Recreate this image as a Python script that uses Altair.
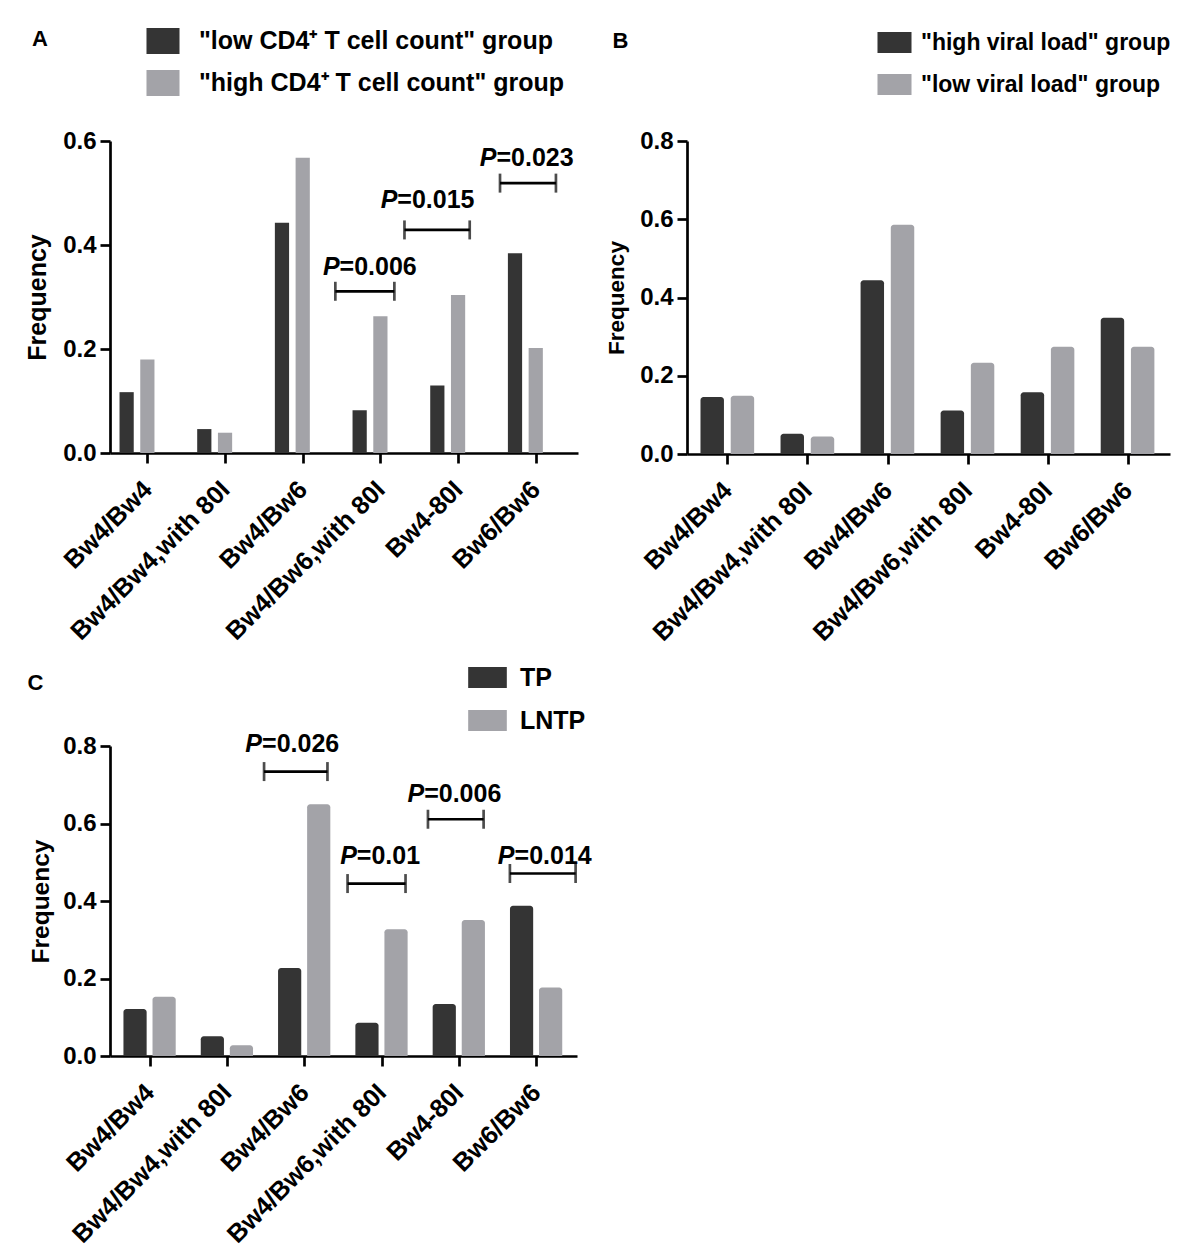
import json
import altair as alt
import pandas as pd

FONT = "Liberation Sans, Arial, Helvetica, sans-serif"
DARK = "#343434"
LIGHT = "#a3a3a8"

categories = ["Bw4/Bw4", "Bw4/Bw4,with 80I", "Bw4/Bw6", "Bw4/Bw6,with 80I", "Bw4-80I", "Bw6/Bw6"]

# ---------------- Panel A ----------------
a_groups = ['"low CD4\u207a T cell count" group', '"high CD4\u207a T cell count" group']
a_low = [0.117, 0.046, 0.443, 0.082, 0.130, 0.384]
a_high = [0.180, 0.039, 0.568, 0.263, 0.304, 0.202]
a_p_labels = ["=0.006", "=0.015", "=0.023"]
a_p_x0 = [2.42, 3.31, 4.54]
a_p_x1 = [3.18, 4.15, 5.26]
a_p_y = [0.311, 0.429, 0.519]
a_p_tx = [2.475, 3.218, 4.495]
a_p_ty = [0.358, 0.487, 0.567]

# ---------------- Panel B ----------------
b_groups = ['"high viral load" group', '"low viral load" group']
b_high = [0.146, 0.052, 0.444, 0.111, 0.158, 0.348]
b_low = [0.149, 0.045, 0.586, 0.233, 0.274, 0.274]

# ---------------- Panel C ----------------
c_groups = ["TP", "LNTP"]
c_tp = [0.121, 0.051, 0.227, 0.086, 0.134, 0.388]
c_lntp = [0.153, 0.028, 0.650, 0.327, 0.351, 0.177]
c_p_labels = ["=0.026", "=0.01", "=0.006", "=0.014"]
c_p_x0 = [1.48, 2.56, 3.60, 4.66]
c_p_x1 = [2.30, 3.31, 4.32, 5.51]
c_p_y = [0.734, 0.445, 0.611, 0.471]
c_p_tx = [1.454, 2.68, 3.551, 4.72]
c_p_ty = [0.805, 0.516, 0.676, 0.517]

LABEL_EXPR = json.dumps(categories) + "[datum.value]"


def panel(letter, groups, s1, s2, ymax, width, height, xdom, offs, barw, corner,
          leg, letter_xy, ytitle, brackets=None):
    df = pd.DataFrame({
        "cat": categories * 2,
        "idx": list(range(6)) * 2,
        "gi": [0] * 6 + [1] * 6,
        "group": [groups[0]] * 6 + [groups[1]] * 6,
        "value": s1 + s2,
    })
    xs = alt.Scale(domain=xdom, nice=False, zero=False)
    ys = alt.Scale(domain=[0, ymax], nice=False, zero=True)
    xax = alt.Axis(values=[0, 1, 2, 3, 4, 5], labelExpr=LABEL_EXPR, labelAngle=-45,
                   labelAlign="right", labelBaseline="middle", labelPadding=22,
                   labelFontSize=25.5, labelOverlap=False, labelLimit=600,
                   title=None, grid=False)
    yvals = [round(v * 0.2, 1) for v in range(int(round(ymax / 0.2)) + 1)]
    yax = alt.Axis(values=yvals, format=".1f", title="Frequency",
                   titleFontSize=ytitle[0], titlePadding=ytitle[1],
                   labelPadding=4, grid=False, labelOverlap=False)

    h = barw / 2
    bars = alt.Chart(df).transform_calculate(
        xl=f"datum.idx + (datum.gi == 0 ? {offs[0]} : {offs[1]}) - {h}",
        xr=f"datum.idx + (datum.gi == 0 ? {offs[0]} : {offs[1]}) + {h}",
    ).mark_bar(cornerRadiusTopLeft=corner, cornerRadiusTopRight=corner).encode(
        x=alt.X("xl:Q", scale=xs, axis=xax),
        x2="xr:Q",
        y=alt.Y("value:Q", scale=ys, axis=yax),
        y2=alt.datum(0),
        color=alt.Color(
            "group:N",
            sort=groups,
            scale=alt.Scale(domain=groups, range=[DARK, LIGHT]),
            legend=alt.Legend(
                title=None, orient="none", legendX=leg["x"], legendY=leg["y"],
                symbolType=leg["path"], symbolSize=leg["size"], symbolStrokeWidth=0,
                labelFont=FONT, labelFontSize=leg["fs"], labelFontWeight="bold",
                labelColor="black", labelOffset=leg["loff"], labelLimit=800,
                rowPadding=leg["rp"], padding=0,
            ),
        ),
    )
    layers = [bars]

    if brackets is not None:
        labels, x0, x1, yb, tx, ty = brackets
        bdf = pd.DataFrame({"x0": x0, "x1": x1, "y": yb})
        cdf = pd.DataFrame({"x": x0 + x1, "y": yb + yb})
        tdf = pd.DataFrame({"tx": tx, "ty": ty, "label": labels})
        layers.append(alt.Chart(bdf).mark_rule(color="black", strokeWidth=2.7).encode(
            x=alt.X("x0:Q", scale=xs, axis=xax), x2="x1:Q",
            y=alt.Y("y:Q", scale=ys, axis=yax)))
        layers.append(alt.Chart(cdf).mark_tick(orient="vertical", color="black",
                                               size=19, thickness=2.7).encode(
            x=alt.X("x:Q", scale=xs, axis=xax), y=alt.Y("y:Q", scale=ys, axis=yax)))
        layers.append(alt.Chart(tdf).mark_text(
            text="P", align="right", baseline="middle", font=FONT, fontSize=25,
            fontStyle="italic", fontWeight="bold", color="black").encode(
            x=alt.X("tx:Q", scale=xs, axis=xax), y=alt.Y("ty:Q", scale=ys, axis=yax)))
        layers.append(alt.Chart(tdf).mark_text(
            align="left", baseline="middle", font=FONT, fontSize=25,
            fontWeight="bold", color="black").encode(
            x=alt.X("tx:Q", scale=xs, axis=xax), y=alt.Y("ty:Q", scale=ys, axis=yax),
            text="label:N"))

    letter_layer = alt.Chart(pd.DataFrame({"t": [letter]})).mark_text(
        align="left", baseline="top", font=FONT, fontSize=22, fontWeight="bold",
        color="black").encode(text="t:N", x=alt.value(letter_xy[0]), y=alt.value(letter_xy[1]))
    layers.append(letter_layer)

    return alt.layer(*layers).properties(width=width, height=height)


pA = panel("A", a_groups, a_low, a_high, 0.6, 468, 312, [-0.481, 5.544], (-0.267, 0.0), 0.183, 0,
           dict(x=40, y=-113, path="M-1.27,-1H1.27V1H-1.27Z", size=676, loff=23, rp=16, fs=25),
           (-78, -112), (25, 12),
           (a_p_labels, a_p_x0, a_p_x1, a_p_y, a_p_tx, a_p_ty))
pB = panel("B", b_groups, b_high, b_low, 0.8, 483, 313, [-0.505, 5.529], (-0.19, 0.1875), 0.293, 3,
           dict(x=196, y=-110, path="M-1.62,-1H1.62V1H-1.62Z", size=441, loff=15, rp=18, fs=23),
           (-74.5, -110), (22.5, 11))
pC = panel("C", c_groups, c_tp, c_lntp, 0.8, 467, 310, [-0.513, 5.528], (-0.189, 0.187), 0.30, 3,
           dict(x=365, y=-81, path="M-1.84,-1H1.84V1H-1.84Z", size=441, loff=20, rp=17, fs=25),
           (-82.4, -73), (24.5, 9),
           (c_p_labels, c_p_x0, c_p_x1, c_p_y, c_p_tx, c_p_ty))

top = alt.hconcat(pA, pB, spacing=27).resolve_scale(color="independent", x="independent", y="independent")
chart = alt.vconcat(top, pC, spacing=19).resolve_scale(
    color="independent", x="independent", y="independent"
).properties(
    padding={"left": 17, "top": 20, "right": 0, "bottom": 0}
).configure_axis(
    labelFont=FONT, labelFontSize=24, labelFontWeight="bold", labelColor="black",
    titleFont=FONT, titleFontSize=25, titleFontWeight="bold", titleColor="black",
    domainColor="black", domainWidth=2.7, tickColor="black", tickWidth=2.7, tickSize=10,
    grid=False,
).configure_view(stroke=None).configure_legend(
    labelFont=FONT
)

chart.save("out.html", embed_options={"renderer": "svg", "actions": False})
